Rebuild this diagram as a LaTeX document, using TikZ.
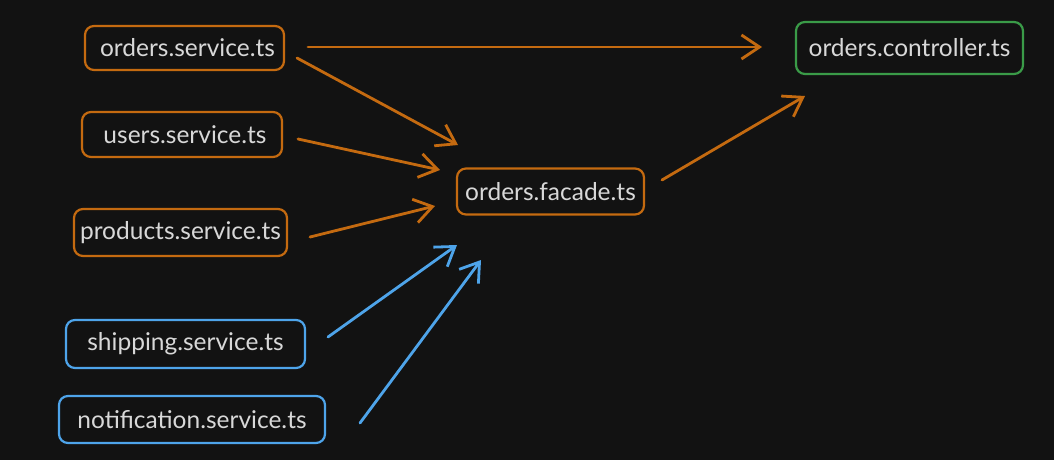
\documentclass[tikz,border=0pt]{standalone}
\usepackage{fontspec}
\setmainfont{Lato}
\usetikzlibrary{arrows.meta}
\definecolor{bg}{HTML}{121212}
\definecolor{orng}{HTML}{C46A10}
\definecolor{blu}{HTML}{4EA4EA}
\definecolor{grn}{HTML}{3A9B48}
\definecolor{txt}{HTML}{D8D8D8}
\tikzset{
  box/.style={draw, line width=2.2pt, rounded corners=9pt, text=txt, font=\fontsize{24.5}{27}\selectfont, inner sep=0pt, anchor=center},
  obox/.style={box, draw=orng},
  bbox/.style={box, draw=blu},
  gbox/.style={box, draw=grn},
  conn/.style={line width=2.8pt, line cap=round, line join=round, -{Straight Barb[length=18pt,width=24pt,line width=2.8pt]}},
}
\begin{document}
\begin{tikzpicture}[x=1pt,y=-1pt]
\fill[bg] (0,0) rectangle (1054,460);
\useasboundingbox (0,0) rectangle (1054,460);
\node[obox, minimum width=199pt, minimum height=44pt] (os) at (184.5,48) {\hspace{6pt}orders.service.ts};
\node[obox, minimum width=200pt, minimum height=45pt] (us) at (182,134.5) {\hspace{6pt}users.service.ts};
\node[obox, minimum width=213pt, minimum height=47pt] (ps) at (180.5,232.5) {products.service.ts};
\node[bbox, minimum width=239pt, minimum height=48pt] (ss) at (185.5,344) {shipping.service.ts};
\node[bbox, minimum width=266pt, minimum height=47pt] (ns) at (192,419.5) {notification.service.ts};
\node[obox, minimum width=187pt, minimum height=46pt] (of) at (550.5,191.5) {orders.facade.ts};
\node[gbox, minimum width=227pt, minimum height=52pt] (oc) at (909.5,48) {orders.controller.ts};
\coordinate (a1s) at (308,47); \coordinate (a1e) at (762,47);
\coordinate (a2s) at (297,58); \coordinate (a2e) at (458,145);
\coordinate (a3s) at (298,139); \coordinate (a3e) at (440,170);
\coordinate (a4s) at (310,237); \coordinate (a4e) at (435,206);
\coordinate (a5s) at (328,337); \coordinate (a5e) at (457,245);
\coordinate (a6s) at (360,423); \coordinate (a6e) at (481,260);
\coordinate (a7s) at (662,180); \coordinate (a7e) at (805,96);
\draw[conn, orng] (a1s) -- (a1e);
\draw[conn, orng] (a2s) -- (a2e);
\draw[conn, orng] (a3s) -- (a3e);
\draw[conn, orng] (a4s) -- (a4e);
\draw[conn, blu] (a5s) -- (a5e);
\draw[conn, blu] (a6s) -- (a6e);
\draw[conn, orng] (a7s) -- (a7e);
\end{tikzpicture}
\end{document}
